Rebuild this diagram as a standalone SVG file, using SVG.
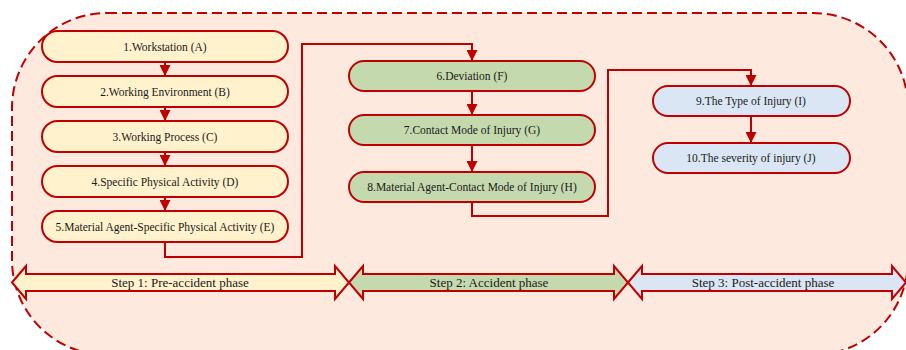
<svg xmlns="http://www.w3.org/2000/svg" width="906" height="350" viewBox="0 0 906 350">
<defs>
<style>
.node{stroke:#C00000;stroke-width:2}
.y{fill:#FFF2CC}
.g{fill:#C5D9AE}
.b{fill:#DAE6F4}
.t{font-family:"Liberation Serif","Times New Roman",serif;font-size:11.5px;fill:#1a1a1a;text-anchor:middle}
.st{font-family:"Liberation Serif","Times New Roman",serif;font-size:13px;fill:#1a1a1a;text-anchor:middle}
.c{fill:none;stroke:#C00000;stroke-width:2;marker-end:url(#ah)}
.ph{stroke:#C00000;stroke-width:2;stroke-linejoin:miter}
</style>
<marker id="ah" markerUnits="userSpaceOnUse" markerWidth="11" markerHeight="11" refX="11" refY="5.5" orient="auto">
<path d="M0,0 L11,5.5 L0,11 z" fill="#C00000"/>
</marker>
</defs>
<rect id="background" x="12" y="13" width="896" height="342" rx="95" ry="95" fill="#FDE9DD" stroke="#C00000" stroke-width="2" stroke-dasharray="10,5"/>
<g id="connectors">
<line class="c" x1="165" y1="62" x2="165" y2="76"/>
<line class="c" x1="165" y1="107" x2="165" y2="121"/>
<line class="c" x1="165" y1="152" x2="165" y2="166"/>
<line class="c" x1="165" y1="197" x2="165" y2="211"/>
<polyline class="c" points="165,242 165,257 302,257 302,44 472,44 472,61"/>
<line class="c" x1="472" y1="91" x2="472" y2="115"/>
<line class="c" x1="472" y1="145" x2="472" y2="172"/>
<polyline class="c" points="472,202 472,216 608,216 608,70 751,70 751,86"/>
<line class="c" x1="751" y1="116" x2="751" y2="143"/>
</g>
<g id="nodeA"><rect class="node y" x="42" y="31" width="246" height="31" rx="15.5"/><text class="t" x="165" y="50.5">1.Workstation (A)</text></g>
<g id="nodeB"><rect class="node y" x="42" y="76" width="246" height="31" rx="15.5"/><text class="t" x="165" y="95.5">2.Working Environment (B)</text></g>
<g id="nodeC"><rect class="node y" x="42" y="121" width="246" height="31" rx="15.5"/><text class="t" x="165" y="140.5">3.Working Process (C)</text></g>
<g id="nodeD"><rect class="node y" x="42" y="166" width="246" height="31" rx="15.5"/><text class="t" x="165" y="185.5">4.Specific Physical Activity (D)</text></g>
<g id="nodeE"><rect class="node y" x="42" y="211" width="246" height="31" rx="15.5"/><text class="t" x="165" y="230.5">5.Material Agent-Specific Physical Activity (E)</text></g>
<g id="nodeF"><rect class="node g" x="349" y="61" width="246" height="30" rx="15"/><text class="t" x="472" y="80">6.Deviation (F)</text></g>
<g id="nodeG"><rect class="node g" x="349" y="115" width="246" height="30" rx="15"/><text class="t" x="472" y="134">7.Contact Mode of Injury (G)</text></g>
<g id="nodeH"><rect class="node g" x="349" y="172" width="246" height="30" rx="15"/><text class="t" x="472" y="191">8.Material Agent-Contact Mode of Injury (H)</text></g>
<g id="nodeI"><rect class="node b" x="653" y="86" width="197" height="30" rx="15"/><text class="t" x="751" y="105">9.The Type of Injury (I)</text></g>
<g id="nodeJ"><rect class="node b" x="653" y="143" width="197" height="30" rx="15"/><text class="t" x="751" y="162">10.The severity of injury (J)</text></g>
<g id="step1"><polygon class="ph" fill="#FFF2CC" points="12,282.5 26,266 26,274 335,274 335,266 349,282.5 335,299 335,291 26,291 26,299"/><text class="st" x="180" y="287">Step 1: Pre-accident phase</text></g>
<g id="step2"><polygon class="ph" fill="#C5D9AE" points="349,282.5 363,266 363,274 614,274 614,266 628,282.5 614,299 614,291 363,291 363,299"/><text class="st" x="489" y="287">Step 2: Accident phase</text></g>
<g id="step3"><polygon class="ph" fill="#DAE6F4" points="628,282.5 642,266 642,274 892,274 892,266 906,282.5 892,299 892,291 642,291 642,299"/><text class="st" x="763" y="287">Step 3: Post-accident phase</text></g>
</svg>
